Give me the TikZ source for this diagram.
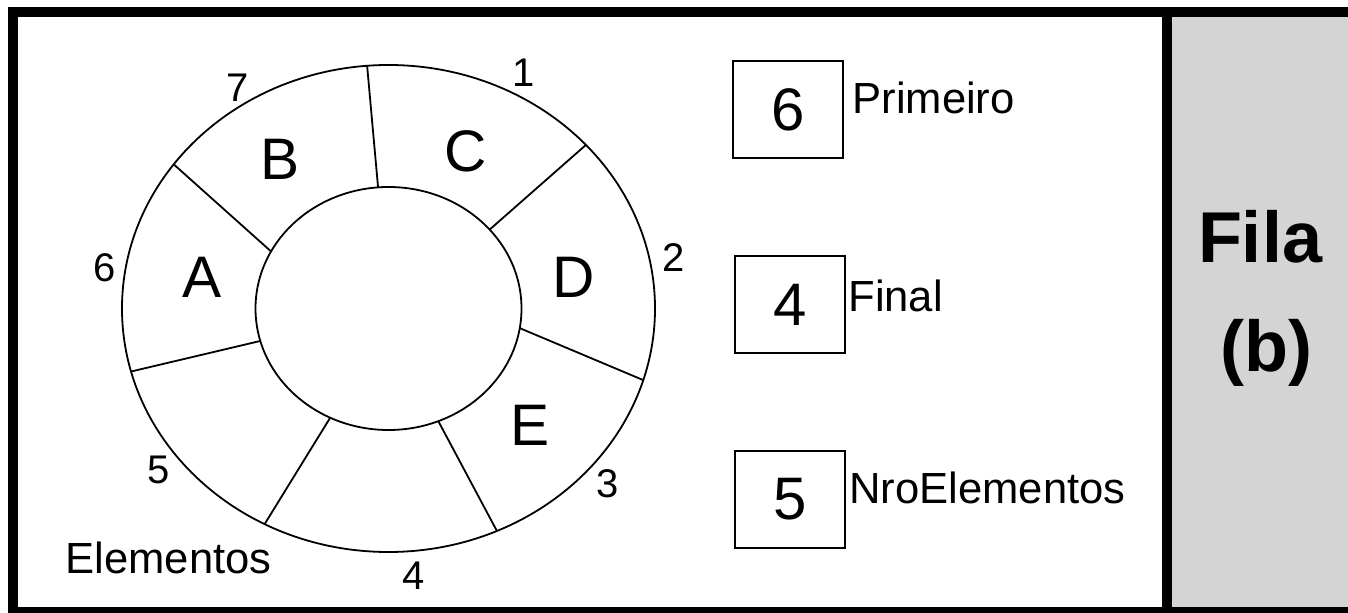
\documentclass[tikz,border=0pt]{standalone}
\usepackage{fontspec}
\setmainfont{Liberation Sans}
\definecolor{panelgray}{HTML}{D4D4D4}
\begin{document}
\begin{tikzpicture}[x=0.5pt,y=-0.5pt,
  ring/.style={draw=black,line width=0.9pt},
  frame/.style={draw=black,line width=5pt},
  slot/.style={font=\fontsize{29.3}{34}\selectfont,inner sep=0pt},
  idx/.style={font=\fontsize{20}{24}\selectfont,inner sep=0pt},
  valbox/.style={draw=black,line width=1pt,minimum width=55pt,minimum height=48.5pt,inner sep=0pt,font=\fontsize{30}{36}\selectfont},
  varname/.style={font=\fontsize{21.8}{26}\selectfont,inner sep=0pt,anchor=west},
  title/.style={font=\bfseries\fontsize{36}{42}\selectfont,inner sep=0pt}]
\useasboundingbox (0,0) rectangle (1348,613);
\clip (0,0) rectangle (1348,613);
\fill[white] (0,0) rectangle (1348,613);
\fill[panelgray] (1167,12) rectangle (1360,612);
\draw[frame] (1360,12) -- (13,12) -- (13,612) -- (1360,612);
\draw[frame] (1167,12) -- (1167,612);
% ring
\coordinate (c) at (388.5,308.5);
\draw[ring] (c) ellipse [x radius=133.25pt, y radius=121.75pt];
\draw[ring] (c) ellipse [x radius=66.5pt, y radius=60.75pt];
\foreach \n/\ao/\ai in {1/94.6/94.5, 2/42.2/40.5, 3/-17.1/-9.3, 4/-66/-68, 5/-117.7/-116, 6/195/195.5, 7/143.7/152} {
  \coordinate (o\n) at ({388.5+266.5*cos(\ao)},{308.5-243.5*sin(\ao)});
  \coordinate (i\n) at ({388.5+133*cos(\ai)},{308.5-121.5*sin(\ai)});
  \draw[ring] (i\n) -- (o\n);
}
% slot contents
\node[slot] (sA) at (202,277.5) {A};
\node[slot] (sB) at (280.5,159) {B};
\node[slot] (sC) at (466,151.5) {C};
\node[slot] (sD) at (574,277.5) {D};
\node[slot] (sE) at (530,425) {E};
% indices
\node[idx] (n1) at (523.5,72.5) {1};
\node[idx] (n2) at (674,257.5) {2};
\node[idx] (n3) at (608,484) {3};
\node[idx] (n4) at (414,576) {4};
\node[idx] (n5) at (159,470) {5};
\node[idx] (n6) at (105,267.5) {6};
\node[idx] (n7) at (237.5,87.5) {7};
\node[varname,anchor=center] (elem) at (168.5,557.5) {Elementos};
% variables
\node[valbox] (bp) at (788,109.5) {6};
\node[varname] (lp) at (852,97.5) {Primeiro};
\node[valbox] (bf) at (790,305) {4};
\node[varname] (lf) at (848,295.5) {Final};
\node[valbox] (bn) at (790,499.5) {5};
\node[varname] (ln) at (849,487.5) {NroElementos};
% title
\node[title] (t1) at (1260,237) {Fila};
\node[title] (t2) at (1266.7,353) {(b)};
\end{tikzpicture}
\end{document}
